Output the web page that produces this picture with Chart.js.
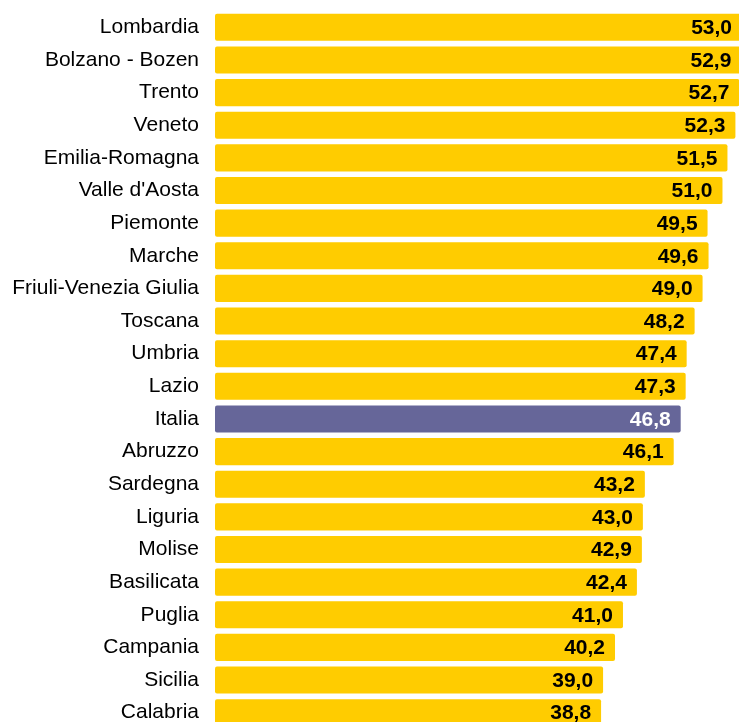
<!DOCTYPE html>
<html>
<head>
<meta charset="utf-8">
<script src="https://cdn.jsdelivr.net/npm/chart.js@4.4.1/dist/chart.umd.min.js"></script>
<style>
  html, body { margin: 0; padding: 0; background: #fff; overflow: hidden; }
  #wrap { width: 739px; height: 722px; overflow: hidden; }
</style>
</head>
<body>
<div id="wrap"><canvas id="chart" width="739" height="729"></canvas></div>
<script>
const regions = [
  'Lombardia', 'Bolzano - Bozen', 'Trento', 'Veneto', 'Emilia-Romagna', "Valle d'Aosta",
  'Piemonte', 'Marche', 'Friuli-Venezia Giulia', 'Toscana', 'Umbria', 'Lazio', 'Italia',
  'Abruzzo', 'Sardegna', 'Liguria', 'Molise', 'Basilicata', 'Puglia', 'Campania', 'Sicilia', 'Calabria',
];
const values = [53.0, 52.9, 52.7, 52.3, 51.5, 51.0, 49.5, 49.6, 49.0, 48.2, 47.4, 47.3, 46.8,
  46.1, 43.2, 43.0, 42.9, 42.4, 41.0, 40.2, 39.0, 38.8];
const highlight = 'Italia';

const YELLOW = '#FFCC00';
const PURPLE = '#666699';
const FONT = 'Arial, "Liberation Sans", sans-serif';

// value written inside the end of each bar
const valueLabels = {
  id: 'valueLabels',
  afterDatasetsDraw(chart) {
    const { ctx } = chart;
    const meta = chart.getDatasetMeta(0);
    ctx.save();
    ctx.font = `bold 21px ${FONT}`;
    ctx.textAlign = 'right';
    ctx.textBaseline = 'middle';
    meta.data.forEach((bar, i) => {
      ctx.fillStyle = regions[i] === highlight ? '#fff' : '#000';
      const txt = values[i].toFixed(1).replace('.', ',');
      ctx.fillText(txt, Math.min(bar.x, chart.chartArea.right + 3) - 10, bar.y + 1);
    });
    ctx.restore();
  },
};

new Chart(document.getElementById('chart'), {
  type: 'bar',
  data: {
    labels: regions,
    datasets: [{
      data: values,
      backgroundColor: regions.map(r => r === highlight ? PURPLE : YELLOW),
      borderRadius: 2,
      borderSkipped: false,
      categoryPercentage: 1,
      barPercentage: 0.83,
    }],
  },
  options: {
    indexAxis: 'y',
    responsive: false,
    animation: false,
    devicePixelRatio: 1,
    layout: { padding: { top: 11, right: 0, bottom: 0, left: 0 } },
    plugins: { legend: { display: false }, tooltip: { enabled: false } },
    scales: {
      x: { display: false, min: 0, max: 52.66 },
      y: {
        grid: { display: false, drawTicks: false },
        border: { display: false },
        afterFit: s => { s.width = 215; s.paddingTop = 0; s.paddingBottom = 0; },
        ticks: { color: '#000', padding: 16, font: { family: FONT, size: 21 } },
      },
    },
  },
  plugins: [valueLabels],
});
</script>
</body>
</html>
